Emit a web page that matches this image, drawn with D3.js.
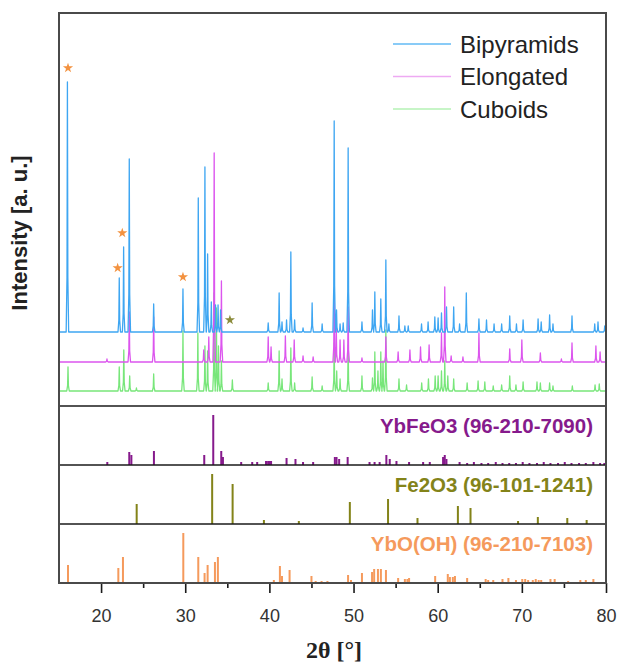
<!DOCTYPE html>
<html>
<head>
<meta charset="utf-8">
<script src="https://cdn.jsdelivr.net/npm/d3@7"></script>
<style>
  body { margin: 0; background: #fff; }
  svg { display: block; font-family: "Liberation Sans", Arial, sans-serif; }
</style>
</head>
<body>
<div id="chart"></div>
<script>
// sample patterns: [2theta, intensity] peak tops, intensity above each trace baseline
const sampleNames = ["Bipyramids", "Elongated", "Cuboids"];
const sampleOffsets = [74, 44, 15];

const bipyramidsPeaks = [
  [16.0, 250], [22.16, 54], [22.68, 85], [23.35, 173], [26.25, 28], [29.73, 43],
  [31.55, 134], [32.34, 165], [32.66, 78], [33.1, 30], [33.6, 27], [33.9, 27], [34.2, 22],
  [39.86, 9], [41.16, 39], [41.5, 10], [42.04, 12], [42.55, 80], [43.0, 12], [44.0, 4],
  [45.08, 29], [46.27, 8], [47.7, 211], [47.98, 22], [48.4, 8], [48.77, 9], [49.36, 184],
  [51.0, 10], [52.25, 22], [52.53, 40], [53.24, 33], [53.84, 72], [54.2, 8], [55.4, 16],
  [56.1, 6], [56.5, 6], [58.08, 8], [58.86, 10], [59.66, 15], [60.05, 14], [60.45, 19],
  [61.05, 25], [61.9, 25], [62.6, 8], [63.4, 39], [64.9, 13], [65.8, 12], [66.7, 8],
  [67.6, 8], [68.56, 16], [69.36, 8], [70.15, 12], [71.93, 13], [72.3, 10], [73.3, 17],
  [73.7, 8], [75.96, 16], [78.66, 8], [79.05, 10], [79.85, 6]
];
const elongatedPeaks = [
  [20.7, 3], [23.35, 50], [26.25, 45], [32.2, 12], [32.8, 25], [33.44, 209], [34.3, 81],
  [39.86, 25], [40.2, 15], [41.9, 26], [42.95, 22], [44.0, 6], [45.2, 5], [47.7, 70],
  [47.95, 35], [48.4, 22], [48.85, 22], [49.36, 55], [51.0, 4], [53.84, 25], [55.3, 10],
  [56.7, 12], [57.96, 15], [58.98, 17], [60.45, 29], [60.84, 75], [61.6, 6], [63.0, 5],
  [64.9, 29], [68.56, 13], [70.0, 22], [72.2, 9], [74.7, 3], [75.96, 19], [78.8, 16], [79.3, 10]
];
const cuboidsPeaks = [
  [16.07, 24], [22.16, 24], [22.7, 41], [23.4, 15], [24.2, 3], [26.25, 17], [29.73, 60],
  [31.5, 58], [32.34, 45], [32.66, 40], [33.42, 98], [33.7, 83], [33.95, 45], [34.3, 30],
  [35.6, 11], [39.86, 8], [41.16, 40], [41.5, 12], [42.55, 43], [43.0, 8], [45.08, 14],
  [46.27, 5], [47.7, 48], [48.0, 20], [48.4, 12], [49.36, 46], [51.0, 15], [52.25, 13],
  [52.53, 39], [52.9, 20], [53.24, 39], [53.5, 30], [53.84, 61], [55.4, 12], [56.3, 6],
  [58.1, 8], [58.9, 12], [59.7, 15], [60.05, 15], [60.45, 20], [60.84, 30], [61.2, 15],
  [61.9, 12], [63.5, 8], [64.8, 10], [65.6, 9], [66.6, 5], [67.6, 6], [68.56, 15],
  [69.3, 6], [70.15, 9], [71.8, 9], [72.2, 8], [73.3, 8], [73.7, 5], [76.0, 5], [78.7, 6], [79.2, 7]
];
const samplePeaks = [bipyramidsPeaks, elongatedPeaks, cuboidsPeaks];

// phase marks: [2theta, intensity in main panel units]
const orangeStars = [[16.07, 338], [21.97, 138], [22.52, 173], [29.73, 129]];
const oliveStars = [[35.31, 86]];

// reference cards: [2theta, relative intensity]
const refNames = ["YbFeO3 (96-210-7090)", "Fe2O3 (96-101-1241)", "YbO(OH) (96-210-7103)"];
const ybfeo3Sticks = [
  [20.74, 3], [23.35, 13], [23.6, 10], [26.28, 14], [32.26, 10], [33.33, 50], [34.28, 14],
  [34.48, 8], [36.65, 3], [37.96, 3], [38.55, 3], [39.6, 4], [39.85, 4], [40.05, 4], [40.2, 4],
  [42.04, 7], [43.1, 6], [44.0, 3], [45.2, 3], [47.78, 8], [47.98, 8], [48.29, 6], [49.3, 8],
  [51.9, 3], [52.5, 3], [53.1, 3], [53.9, 10], [54.3, 6], [55.1, 4], [56.6, 3], [58.27, 3],
  [59.06, 3], [60.64, 8], [60.84, 10], [61.04, 6], [62.6, 3], [63.5, 2], [64.3, 3], [65.2, 2],
  [66.0, 2], [66.9, 3], [67.7, 2], [68.5, 2], [69.3, 2], [70.1, 3], [70.9, 2], [71.8, 2],
  [72.6, 3], [73.4, 2], [74.3, 2], [75.1, 3], [75.9, 2], [76.8, 2], [77.6, 2], [78.5, 3],
  [79.3, 2], [79.8, 2]
];
const fe2o3Sticks = [
  [24.23, 20], [33.2, 50], [35.63, 40], [39.35, 4], [43.5, 3], [49.56, 22], [54.1, 25],
  [57.6, 6], [62.4, 18], [63.9, 16], [69.55, 3], [71.9, 7], [75.4, 6], [77.7, 4]
];
const ybohSticks = [
  [16.07, 18], [22.05, 15], [22.6, 26], [29.77, 50], [31.55, 26], [32.3, 10], [32.66, 18],
  [33.53, 21], [33.88, 26], [40.53, 3], [41.25, 17], [41.5, 7], [42.4, 13], [45.0, 7],
  [45.5, 2], [46.2, 2], [46.9, 2], [49.35, 8], [49.7, 3], [51.0, 10], [52.2, 11], [52.45, 14],
  [52.9, 14], [53.25, 14], [53.85, 13], [55.3, 5], [56.1, 4], [56.4, 4], [56.6, 5], [59.7, 7],
  [61.2, 9], [61.45, 6], [61.8, 6], [62.05, 7], [63.5, 5], [65.7, 4], [66.0, 3], [66.6, 3],
  [67.7, 4], [68.4, 5], [69.3, 3], [70.05, 4], [70.4, 4], [70.75, 3], [71.3, 3], [71.65, 4],
  [72.0, 3], [72.3, 3], [73.4, 4], [73.9, 4], [75.5, 2], [76.95, 3], [77.6, 3], [78.5, 4]
];
const refSticks = [ybfeo3Sticks, fe2o3Sticks, ybohSticks];

const majorTicks = [20, 30, 40, 50, 60, 70, 80];
const minorTicks = [25, 35, 45, 55, 65, 75];

/** LAYOUT */
const W = 619, H = 666;
const plotLeft = 59, plotRight = 606, plotTop = 13;
const mainBottom = 406, panelH = 59;
const sampleColors = ["#3ea6f2", "#dc55ee", "#78e67a"];
const legendColors = ["#62baf5", "#eeaaf3", "#b4f2b4"];
const refColors = ["#861a8c", "#838319", "#f59a5c"];

const svg = d3.select("#chart").append("svg")
  .attr("width", W)
  .attr("height", H);

const x = d3.scaleLinear().domain([15, 80]).range([plotLeft, plotRight]);
const y = d3.scaleLinear().domain([0, 393]).range([mainBottom, plotTop]);

svg.append("clipPath").attr("id", "plot-clip")
  .append("rect").attr("x", plotLeft).attr("y", plotTop)
  .attr("width", plotRight - plotLeft).attr("height", mainBottom - plotTop);

// build each trace as baseline with narrow peaks
const peakHalf = 0.15;
const line = d3.line().x(d => x(d[0])).y(d => y(d[1]));
const traceG = svg.append("g").attr("clip-path", "url(#plot-clip)");

[2, 1, 0].forEach(i => {
  const base = sampleOffsets[i];
  const pts = [[15, base]];
  samplePeaks[i].slice().sort((a, b) => a[0] - b[0]).forEach(p => {
    pts.push([p[0] - peakHalf, base], [p[0] - 0.05, base + p[1] * 0.22],
             [p[0], base + p[1]], [p[0] + 0.05, base + p[1] * 0.22], [p[0] + peakHalf, base]);
  });
  pts.push([80, base]);
  traceG.append("path")
    .attr("d", line(pts))
    .attr("fill", "none")
    .attr("stroke", sampleColors[i])
    .attr("stroke-width", 1.3)
    .attr("stroke-linejoin", "round");
});

// star markers
const star = d3.symbol().type(d3.symbolStar).size(32);
svg.selectAll("path.ostar")
  .data(orangeStars)
  .join("path")
  .attr("class", "ostar")
  .attr("d", star)
  .attr("transform", d => `translate(${x(d[0])},${y(d[1])})`)
  .attr("fill", "#f39240");
svg.selectAll("path.gstar")
  .data(oliveStars)
  .join("path")
  .attr("class", "gstar")
  .attr("d", star)
  .attr("transform", d => `translate(${x(d[0])},${y(d[1])})`)
  .attr("fill", "#8c8c3c");

// legend
const legend = svg.append("g");
sampleNames.forEach((name, i) => {
  const ly = 44 + i * 32.5;
  legend.append("line")
    .attr("x1", 393).attr("x2", 451).attr("y1", ly).attr("y2", ly)
    .attr("stroke", legendColors[i]).attr("stroke-width", 1.5);
  legend.append("text")
    .attr("x", 460).attr("y", ly)
    .attr("dy", "0.36em")
    .attr("font-size", 24)
    .attr("fill", "#222")
    .text(name);
});

// reference stick panels
refNames.forEach((name, i) => {
  const pTop = mainBottom + i * panelH;
  const pBot = pTop + panelH;
  const ry = d3.scaleLinear().domain([0, panelH]).range([pBot, pTop]);
  svg.append("g").selectAll("rect")
    .data(refSticks[i])
    .join("rect")
    .attr("x", d => x(d[0]) - 1)
    .attr("width", 2)
    .attr("y", d => ry(d[1]))
    .attr("height", d => ry(0) - ry(d[1]))
    .attr("fill", refColors[i]);
  svg.append("text")
    .attr("x", 593).attr("y", pTop + 27)
    .attr("text-anchor", "end")
    .attr("font-size", 20.5)
    .attr("font-weight", "bold")
    .attr("fill", refColors[i])
    .text(name);
  svg.append("line")
    .attr("x1", plotLeft).attr("x2", plotRight).attr("y1", pTop).attr("y2", pTop)
    .attr("stroke", "#1a1a1a").attr("stroke-width", 1.6);
});

// x axis
const axisY = mainBottom + 3 * panelH;
const xAxis = svg.append("g")
  .attr("transform", `translate(0,${axisY})`)
  .call(d3.axisBottom(x).tickValues(majorTicks).tickSize(10).tickPadding(16).tickFormat(d3.format("d")));
xAxis.select(".domain").remove();
xAxis.selectAll(".tick line").attr("stroke", "#1a1a1a").attr("stroke-width", 1.6);
xAxis.selectAll(".tick text").attr("font-size", 18).attr("fill", "#333")
  .attr("font-family", "Liberation Sans, Arial, sans-serif");
const xMinor = svg.append("g")
  .attr("transform", `translate(0,${axisY})`)
  .call(d3.axisBottom(x).tickValues(minorTicks).tickSize(5).tickFormat(""));
xMinor.select(".domain").remove();
xMinor.selectAll(".tick line").attr("stroke", "#1a1a1a").attr("stroke-width", 1.6);

svg.append("line")
  .attr("x1", plotLeft).attr("x2", plotRight).attr("y1", axisY).attr("y2", axisY)
  .attr("stroke", "#1a1a1a").attr("stroke-width", 1.8);

// outer frame
svg.append("rect")
  .attr("x", plotLeft).attr("y", plotTop)
  .attr("width", plotRight - plotLeft).attr("height", axisY - plotTop)
  .attr("fill", "none")
  .attr("stroke", "#4a4a4a")
  .attr("stroke-width", 2);

// axis titles
svg.append("text")
  .attr("transform", `translate(27,233) rotate(-90)`)
  .attr("text-anchor", "middle")
  .attr("font-size", 22)
  .attr("font-weight", "bold")
  .attr("fill", "#222")
  .text("Intensity [a. u.]");

svg.append("text")
  .attr("x", 334).attr("y", 658)
  .attr("text-anchor", "middle")
  .attr("font-family", "Liberation Serif, Times New Roman, serif")
  .attr("font-size", 24)
  .attr("font-weight", "bold")
  .attr("fill", "#222")
  .text("2θ [°]");
</script>
</body>
</html>
